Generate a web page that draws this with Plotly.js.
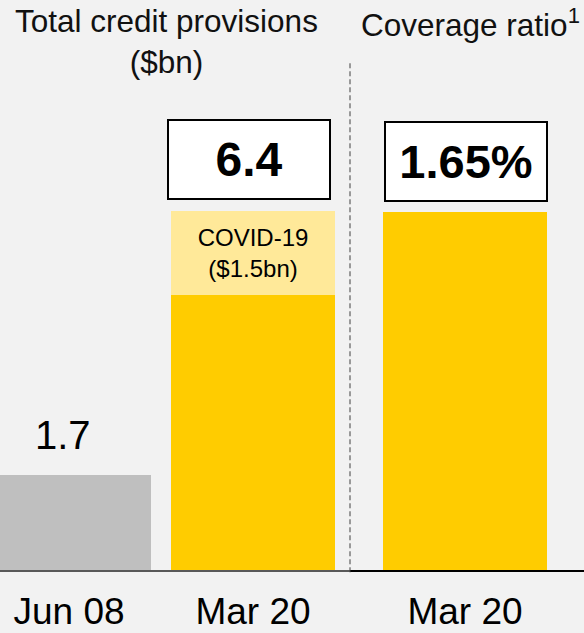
<!DOCTYPE html>
<html>
<head>
<meta charset="utf-8">
<script src="https://cdn.plot.ly/plotly-3.0.1.min.js"></script>
<style>
  html, body { margin: 0; padding: 0; background: #f2f2f2; }
  #chart { width: 584px; height: 633px; }
</style>
</head>
<body>
<div id="chart"></div>
<script>
// ---- data ----
const categories = ['Jun 08', 'Mar 20'];
const baseValues = [1.7, 4.9];          // pre-COVID part of provisions ($bn)
const covidValues = [null, 1.5];        // COVID-19 part ($bn)
const covidLabels = ['', 'COVID-19<br>($1.5bn)'];
const totals = [1.7, 6.4];              // total credit provisions ($bn)
const ratioCategories = ['Mar 20'];
const ratioValues = [1.65];             // coverage ratio (%)
const leftTitle = 'Total credit provisions<br>($bn)';
const rightTitle = 'Coverage ratio<sup>1</sup>';

// ---- styles ----
const FONT = 'Liberation Sans, Arial, sans-serif';
const GREY = '#bfbfbf', YELLOW = '#ffcc00', LIGHT = '#ffe999';
const W = 584, H = 633, SPLIT = 350 / W;

const traces = [
  {
    type: 'bar', x: categories, y: baseValues, xaxis: 'x', yaxis: 'y',
    marker: { color: [GREY, YELLOW] }, hoverinfo: 'none', showlegend: false
  },
  {
    type: 'bar', x: categories, y: covidValues, xaxis: 'x', yaxis: 'y',
    marker: { color: LIGHT }, text: covidLabels, textposition: 'inside',
    insidetextanchor: 'middle', textangle: 0, constraintext: 'none',
    insidetextfont: { family: FONT, size: 24, color: '#000' },
    hoverinfo: 'none', showlegend: false
  },
  {
    type: 'bar', x: ratioCategories, y: ratioValues, xaxis: 'x2', yaxis: 'y2',
    marker: { color: YELLOW }, hoverinfo: 'none', showlegend: false
  }
];

const annotations = [
  { xref: 'paper', yref: 'paper', x: 166 / W, xanchor: 'center', y: 1, yanchor: 'top', yshift: -1,
    text: leftTitle, showarrow: false, font: { family: FONT, size: 31.5, color: '#111' } },
  { xref: 'paper', yref: 'paper', x: 471 / W, xanchor: 'center', y: 1, yanchor: 'top', yshift: -1,
    text: rightTitle, showarrow: false, font: { family: FONT, size: 31.5, color: '#111' } },
  { xref: 'x', yref: 'y', x: categories[0], y: totals[0], yanchor: 'bottom', yshift: 16, xshift: -6,
    text: String(totals[0]), showarrow: false, font: { family: FONT, size: 40, color: '#000' } },
  { xref: 'x', yref: 'y', x: categories[1], y: totals[1], yanchor: 'bottom', yshift: 11, xshift: -4,
    text: String(totals[1]), showarrow: false, width: 160, height: 77,
    bgcolor: '#ffffff', bordercolor: '#000', borderwidth: 2, borderpad: 0,
    font: { family: FONT, size: 48, color: '#000', weight: 'bold' } },
  { xref: 'x2', yref: 'y2', x: ratioCategories[0], y: ratioValues[0], yanchor: 'bottom', yshift: 10, xshift: 1,
    text: ratioValues[0].toFixed(2) + '%', showarrow: false, width: 160, height: 77,
    bgcolor: '#ffffff', bordercolor: '#000', borderwidth: 2, borderpad: 0,
    font: { family: FONT, size: 47, color: '#000', weight: 'bold' } }
];

const layout = {
  width: W, height: H,
  margin: { l: 0, r: 0, t: 0, b: 63, pad: 0 },
  paper_bgcolor: '#f2f2f2', plot_bgcolor: '#f2f2f2',
  barmode: 'stack', bargap: 0.109,
  showlegend: false,
  font: { family: FONT, color: '#000' },
  xaxis: {
    domain: [0, SPLIT], type: 'category', range: [-0.375, 1.527],
    showline: true, linecolor: '#595959', linewidth: 2,
    ticks: '', showgrid: false, zeroline: false, fixedrange: true, ticklabelstandoff: 8,
    tickfont: { family: FONT, size: 37, color: '#000' }
  },
  yaxis: { domain: [0, 1], range: [0, 570 / (359 / 6.4)], visible: false, fixedrange: true },
  xaxis2: {
    domain: [SPLIT, 1], type: 'category', range: [-0.625, 0.647], anchor: 'y2',
    showline: true, linecolor: '#000', linewidth: 1.5,
    ticks: '', showgrid: false, zeroline: false, fixedrange: true, ticklabelstandoff: 8,
    tickfont: { family: FONT, size: 37, color: '#000' }
  },
  yaxis2: { domain: [0, 1], range: [0, 570 / (358 / 1.65)], anchor: 'x2', visible: false, fixedrange: true },
  shapes: [
    { type: 'line', xref: 'paper', yref: 'paper', x0: SPLIT, x1: SPLIT, y0: -0.004, y1: 0.889,
      line: { color: '#404040', width: 1, dash: '5px,3px' } }
  ],
  annotations: annotations
};

Plotly.newPlot('chart', traces, layout, { staticPlot: true, displayModeBar: false });
</script>
</body>
</html>
